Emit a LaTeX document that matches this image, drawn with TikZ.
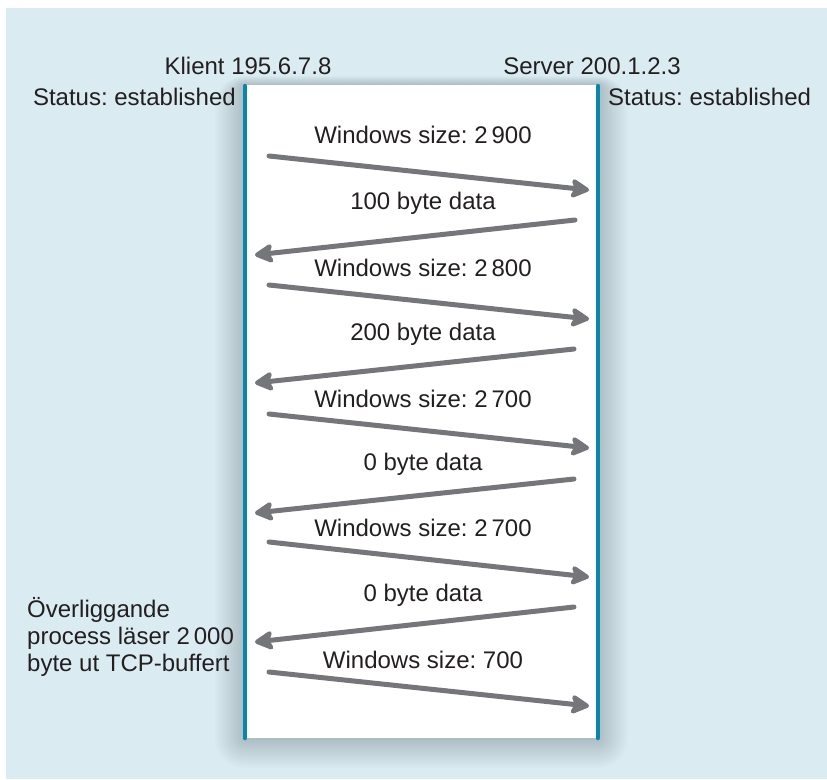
\documentclass[tikz,border=0pt]{standalone}
\usepackage{fontspec}
\setmainfont{Liberation Sans}
\usetikzlibrary{arrows.meta}
\frenchspacing

\definecolor{bakgrund}{HTML}{DAEBF2}
\definecolor{tidslinje}{HTML}{0A86AA}
\definecolor{pilgra}{HTML}{75767A}
\definecolor{textfarg}{HTML}{231F20}

\begin{document}
\begin{tikzpicture}[x=1pt,y=-1pt]
\tikzset{
  etikett/.style={font=\fontsize{24}{27}\selectfont,text=textfarg,inner sep=0pt},
  segment/.style={pilgra,line width=5pt,line cap=round,
    -{Stealth[length=22pt,width=23pt,inset=5pt,round]}},
  linje/.style={tidslinje,line width=4.5pt,line cap=round}
}
\useasboundingbox (0,0) rectangle (827,779);
\fill[bakgrund] (6,8) rectangle (827,779);

% mjuk skugga runt fönstret
\foreach \s in {30,28,...,2}
  \fill[black,opacity=0.012,rounded corners=\s pt]
    (245-\s,85-0.3*\s) rectangle (598+\s,738+\s);
\fill[white] (245,85) rectangle (598,738);

% tidslinjer
\coordinate (k_top) at (245,86);
\coordinate (k_bot) at (245,738);
\coordinate (s_top) at (598,86);
\coordinate (s_bot) at (598,738);
\draw[linje] (k_top) -- (k_bot);
\draw[linje] (s_top) -- (s_bot);

% rubriker
\node[etikett,anchor=base] (klient) at (248,74) {Klient 195.6.7.8};
\node[etikett,anchor=base] (server) at (592,74) {Server 200.1.2.3};
\node[etikett,anchor=base east] (k_status) at (236,105) {Status: established};
\node[etikett,anchor=base west] (s_status) at (608,105) {Status: established};
\node[etikett,anchor=north west,align=left] (process) at (27,597)
  {Överliggande\\process läser 2\,000\\byte ut TCP-buffert};

% segmentens ändpunkter
\coordinate (a1) at (269,156); \coordinate (b1) at (589,190);
\coordinate (a2) at (575,220); \coordinate (b2) at (255,255);
\coordinate (a3) at (269,285); \coordinate (b3) at (589,319);
\coordinate (a4) at (574,349); \coordinate (b4) at (255,383);
\coordinate (a5) at (269,414); \coordinate (b5) at (589,448);
\coordinate (a6) at (574,479); \coordinate (b6) at (255,513);
\coordinate (a7) at (269,542); \coordinate (b7) at (589,577);
\coordinate (a8) at (574,607); \coordinate (b8) at (255,642);
\coordinate (a9) at (269,672); \coordinate (b9) at (589,706);
\foreach \i in {1,...,9}
  \draw[segment] (a\i) -- (b\i);

% etiketter till segmenten
\node[etikett] (w1) at (423,135) {Windows size: 2\,900};
\node[etikett] (d1) at (423,203) {100 byte data};
\node[etikett] (w2) at (423,268) {Windows size: 2\,800};
\node[etikett] (d2) at (423,334) {200 byte data};
\node[etikett] (w3) at (423,399) {Windows size: 2\,700};
\node[etikett] (d3) at (423,464) {0 byte data};
\node[etikett] (w4) at (423,528) {Windows size: 2\,700};
\node[etikett] (d4) at (423,595) {0 byte data};
\node[etikett] (w5) at (423,660) {Windows size: 700};
\end{tikzpicture}
\end{document}
